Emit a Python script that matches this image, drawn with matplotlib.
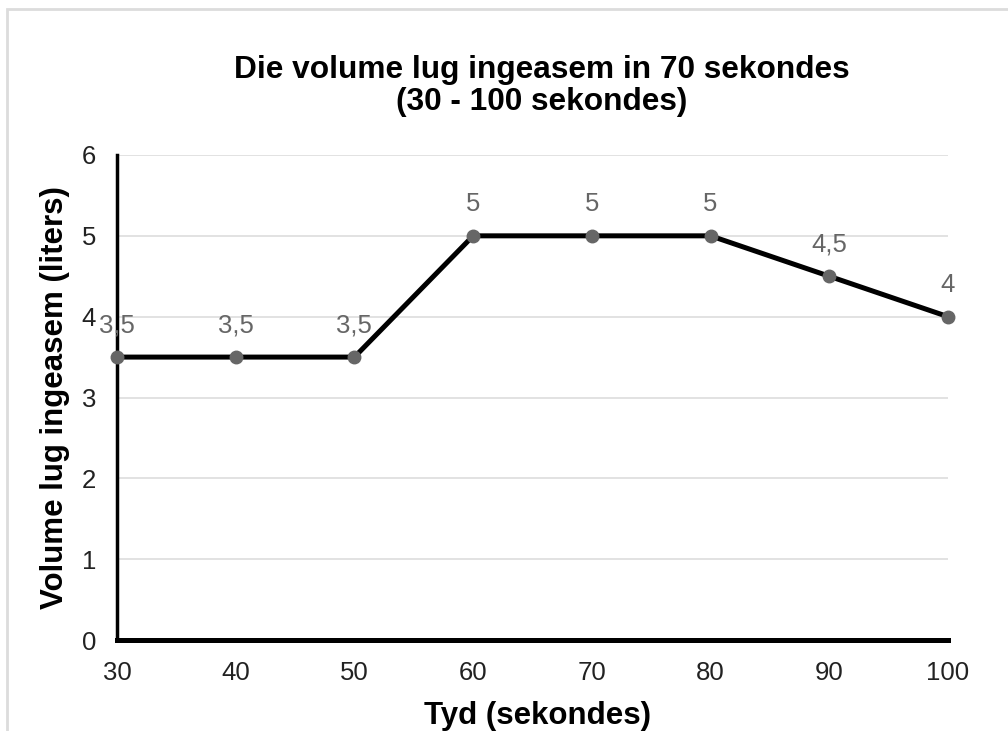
import matplotlib
matplotlib.use("Agg")
import matplotlib.pyplot as plt
from matplotlib.patches import Rectangle

plt.rcParams["font.family"] = ["Liberation Sans", "DejaVu Sans"]

# ---------------------- data ----------------------
tyd = [30, 40, 50, 60, 70, 80, 90, 100]
volume = [3.5, 3.5, 3.5, 5, 5, 5, 4.5, 4]
labels = ["3,5", "3,5", "3,5", "5", "5", "5", "4,5", "4"]
y_ticks = [0, 1, 2, 3, 4, 5, 6]

title = "Die volume lug ingeasem in 70 sekondes\n(30 - 100 sekondes)"
x_label = "Tyd (sekondes)"
y_label = "Volume lug ingeasem (liters)"

W, H = 1008, 731

# ---------------------- figure ----------------------
fig = plt.figure(figsize=(W / 100, H / 100), dpi=100)
ax = fig.add_axes([117 / W, 1 - 640 / H, (948 - 117) / W, (640 - 155) / H])

# light frame around the chart (cropped on right/bottom)
fig.patches.append(Rectangle((7 / W, -0.1), 1.2, 1 - 9 / H + 0.1,
                             transform=fig.transFigure, fill=False,
                             edgecolor="#dcdcdc", linewidth=2))

ax.plot(tyd, volume, color="black", linewidth=3.6, zorder=3,
        marker="o", markersize=9, markerfacecolor="#666666",
        markeredgecolor="#666666", clip_on=False)

for x, y, lab in zip(tyd, volume, labels):
    ax.annotate(lab, (x, y), xytext=(0, 14), textcoords="offset points",
                ha="center", va="bottom", fontsize=18.5, color="#666666")

ax.set_xlim(30, 100)
ax.set_ylim(0, 6)
ax.set_xticks(tyd)
ax.set_yticks(y_ticks)
ax.tick_params(axis="both", length=0, labelsize=18.5, colors="#222222")
ax.tick_params(axis="x", pad=15)
ax.tick_params(axis="y", pad=15)
ax.grid(axis="y", color="#dddddd", linewidth=1.2)
ax.set_axisbelow(True)

for s in ["top", "right"]:
    ax.spines[s].set_visible(False)
ax.spines["left"].set_linewidth(2.5)
ax.spines["bottom"].set_linewidth(3.6)

fig.text(542 / W, 1 - 86 / H, title, fontsize=22.8, fontweight="bold",
         ha="center", va="center", linespacing=1.12)
fig.text(537 / W, 1 - 716 / H, x_label, fontsize=22.5, fontweight="bold",
         ha="center", va="center")
fig.text(55 / W, 1 - 398 / H, y_label, fontsize=22.5, fontweight="bold",
         ha="center", va="center", rotation=90)

plt.savefig("out.png", dpi=100)
